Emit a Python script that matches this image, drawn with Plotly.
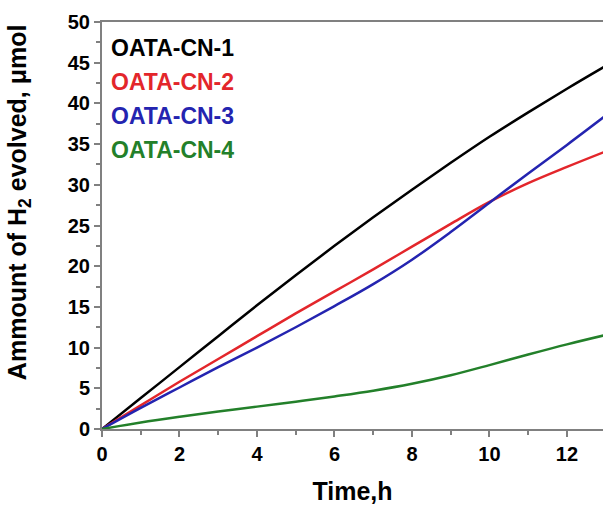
import plotly.graph_objects as go

time_h = [0, 1, 2, 3, 4, 5, 6, 7, 8, 9, 10, 11, 12, 13]
cn1 = [0, 3.8, 7.6, 11.4, 15.2, 18.9, 22.5, 26.0, 29.4, 32.7, 35.9, 38.9, 41.8, 44.6]
cn2 = [0, 2.9, 5.8, 8.6, 11.4, 14.2, 16.9, 19.6, 22.4, 25.2, 27.9, 30.2, 32.2, 34.1]
cn3 = [0, 2.6, 5.1, 7.6, 10.0, 12.5, 15.1, 17.8, 20.8, 24.2, 27.8, 31.4, 34.9, 38.5]
cn4 = [0, 0.8, 1.5, 2.15, 2.75, 3.35, 4.0, 4.7, 5.55, 6.6, 7.85, 9.15, 10.4, 11.55]

names = ["OATA-CN-1", "OATA-CN-2", "OATA-CN-3", "OATA-CN-4"]
colors = ["#000000", "#e3262b", "#2424b0", "#23802a"]
series = [cn1, cn2, cn3, cn4]

FONT = "Liberation Sans, Arial, sans-serif"

fig = go.Figure()
for name, col, ys in zip(names, colors, series):
    fig.add_trace(go.Scatter(x=time_h, y=ys, mode="lines", name=name,
                             line=dict(color=col, width=2.5, shape="spline", smoothing=1.0)))

# legend as coloured text
for i, (name, col) in enumerate(zip(names, colors)):
    fig.add_annotation(text=name, x=0.013, xref="paper", xanchor="left",
                       y=0.935 - i * 0.0835, yref="paper", yanchor="middle",
                       showarrow=False, font=dict(family=FONT, size=23, color=col, weight="bold"))

fig.add_annotation(text="Ammount of H<sub>2</sub> evolved, μmol", textangle=-90,
                   x=-0.166, xref="paper", xanchor="center",
                   y=0.557, yref="paper", yanchor="middle", showarrow=False,
                   font=dict(family=FONT, size=25, color="#000000", weight="bold"))

axis_common = dict(showgrid=False, zeroline=False, showline=True, linecolor="#808080",
                   linewidth=2, ticks="outside", ticklen=6, tickwidth=2, tickcolor="#808080",
                   tickfont=dict(family=FONT, size=20, color="#000000", weight="bold"))

fig.update_xaxes(range=[0, 12.93], dtick=2, tick0=0, mirror=True,
                 minor=dict(ticks="outside", ticklen=4, tickwidth=2, tickcolor="#808080", dtick=1),
                 title=dict(text="Time,h", standoff=18,
                            font=dict(family=FONT, size=25, color="#000000", weight="bold")),
                 **axis_common)
fig.update_yaxes(range=[0, 50], dtick=5, tick0=0,
                 minor=dict(ticks="outside", ticklen=4, tickwidth=2, tickcolor="#808080", dtick=2.5),
                 **axis_common)

fig.update_layout(width=603, height=506, margin=dict(l=102, r=0, t=22, b=77),
                  paper_bgcolor="white", plot_bgcolor="white", showlegend=False)

fig.write_html("out.html")
